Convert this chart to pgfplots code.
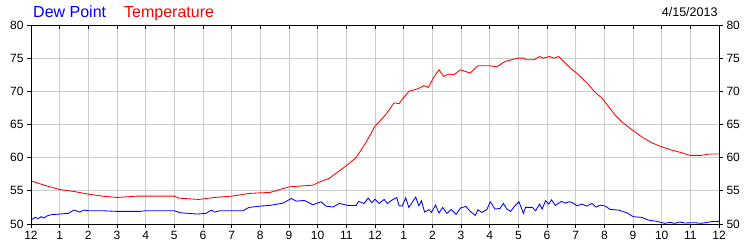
\documentclass[border=0pt]{standalone}
\usepackage{pgfplots}
\pgfplotsset{compat=1.18}
\usepackage{fontspec}
\setmainfont{Liberation Sans}
\begin{document}
\begin{tikzpicture}
\useasboundingbox (0,0) rectangle (750bp,250bp);
\pgfplotsset{
  base/.style={
    at={(31bp,26bp)}, anchor=south west,
    scale only axis, width=688bp, height=199bp,
    xmin=0,xmax=24,ymin=50,ymax=80,
    axis line style={black, line width=0.9bp},
    tick style={black, line width=0.9bp},
    major tick length=4bp,
    ticklabel style={font=\fontsize{12bp}{14bp}\selectfont, text=black},
    /pgf/number format/assume math mode=true,
    clip=false,
  }
}
\begin{axis}[base,
  xtick={0,...,24},
  xticklabels={12,1,2,3,4,5,6,7,8,9,10,11,12,1,2,3,4,5,6,7,8,9,10,11,12},
  ytick={50,55,...,80},
  grid=major, grid style={color=black!20, line width=0.9bp},
  tick align=outside, xtick pos=bottom, ytick pos=left, clip=true]
\addplot[blue, line width=0.85bp] coordinates {
(0,50.6)(0.15,51.0)(0.25,50.8)(0.35,51.1)(0.45,50.9)(0.55,51.2)(0.7,51.4)(1,51.5)
(1.3,51.6)(1.5,52.1)(1.7,51.8)(1.85,52.1)(2,52.0)(2.5,52.0)(3,51.9)(3.8,51.9)
(4,52.0)(5,52.0)(5.2,51.7)(5.8,51.5)(6.1,51.6)(6.3,52.1)(6.4,51.8)(6.6,52.0)
(7,52.0)(7.4,52.0)(7.6,52.5)(8,52.7)(8.33,52.8)(8.79,53.15)
(9.08,53.85)(9.25,53.45)(9.54,53.55)(9.83,52.9)(10.12,53.35)(10.29,52.7)(10.53,52.55)
(10.76,53.1)(11.05,52.8)(11.34,52.8)(11.43,53.4)(11.62,53.1)(11.76,53.9)(11.89,53.2)
(12.0,53.75)(12.14,53.1)(12.32,53.7)(12.43,53.1)(12.61,53.65)(12.76,54.0)(12.84,52.75)
(12.95,52.7)(13.07,53.95)(13.18,52.5)(13.42,54.05)(13.53,52.75)(13.62,53.5)(13.73,51.8)
(13.88,52.15)(13.97,51.75)(14.11,52.85)(14.23,51.65)(14.36,52.5)(14.51,51.6)(14.66,52.2)
(14.83,51.45)(14.98,52.4)(15.17,52.65)(15.32,51.9)(15.5,51.3)(15.59,52.15)(15.73,51.75)
(15.9,52.15)(16.02,53.35)(16.19,52.25)(16.36,52.35)(16.48,53.1)(16.6,52.25)(16.73,51.9)
(16.88,52.75)(17.02,53.35)(17.18,51.6)(17.25,52.5)(17.49,52.5)(17.6,52.0)(17.74,53.0)
(17.83,52.25)(17.95,53.5)(18.06,53.0)(18.16,53.65)(18.29,52.8)(18.5,53.4)(18.64,53.15)
(18.76,53.35)(18.87,53.25)(19.05,52.75)(19.22,53.0)(19.39,52.7)(19.57,53.1)(19.71,52.55)
(19.86,52.85)(20.03,52.7)(20.2,52.2)(20.49,52.1)(20.78,51.7)(21.01,51.1)(21.3,51.0)
(21.53,50.6)(21.82,50.4)(22.11,50.1)(22.28,50.25)(22.46,50.1)(22.63,50.3)(22.8,50.15)
(23.15,50.2)(23.38,50.1)(23.73,50.35)(24,50.4)
};
\addplot[red, line width=0.85bp] coordinates {
(0,56.5)(0.5,55.8)(1,55.2)(1.5,54.9)(2,54.5)(2.5,54.2)(3,54.0)(3.7,54.2)(5,54.2)
(5.15,53.9)(5.85,53.7)(6.4,54.0)(7,54.2)(7.6,54.6)(8,54.7)(8.33,54.75)(9.0,55.6)
(9.83,55.85)(10.02,56.25)(10.41,56.9)(10.99,58.75)(11.34,60)(11.68,62.25)(12.0,64.75)
(12.38,66.5)(12.66,68.25)(12.84,68.15)(12.99,69)(13.18,70)(13.47,70.35)(13.71,70.85)
(13.86,70.6)(14.05,72.1)(14.23,73.25)(14.40,72.25)(14.57,72.6)(14.75,72.5)(14.98,73.25)
(15.32,72.75)(15.59,73.85)(16.02,73.85)(16.25,73.7)(16.54,74.5)(16.97,75.0)(17.2,75)
(17.25,74.75)(17.54,74.75)(17.74,75.25)(17.87,75)(18.09,75.25)(18.24,75)(18.41,75.25)
(18.58,74.5)(18.82,73.5)(19.1,72.5)(19.45,71)(19.68,69.85)(19.91,69)(20.14,67.75)
(20.38,66.4)(20.61,65.4)(20.95,64.25)(21.3,63.15)(21.65,62.25)(21.99,61.65)(22.34,61.15)
(22.69,60.75)(22.98,60.35)(23.38,60.35)(23.67,60.55)(24,60.55)
};
\end{axis}
\begin{axis}[base, xtick=\empty, ytick={50,55,...,80},
  ytick pos=right, yticklabel pos=right, tick align=outside]
\end{axis}
\begin{axis}[base, xtick={0,...,24}, xticklabel=\empty,
  xtick pos=top, ytick=\empty, tick align=inside]
\end{axis}
\node[anchor=base west, inner sep=0, text=blue, font=\fontsize{16bp}{18bp}\selectfont] at (33bp,232.7bp) {Dew Point};
\node[anchor=base west, inner sep=0, text=red, font=\fontsize{16bp}{18bp}\selectfont] at (124bp,232.7bp) {Temperature};
\node[anchor=base east, inner sep=0, text=black, font=\fontsize{12.5bp}{14bp}\selectfont] at (717.7bp,233.3bp) {4/15/2013};
\end{tikzpicture}
\end{document}
